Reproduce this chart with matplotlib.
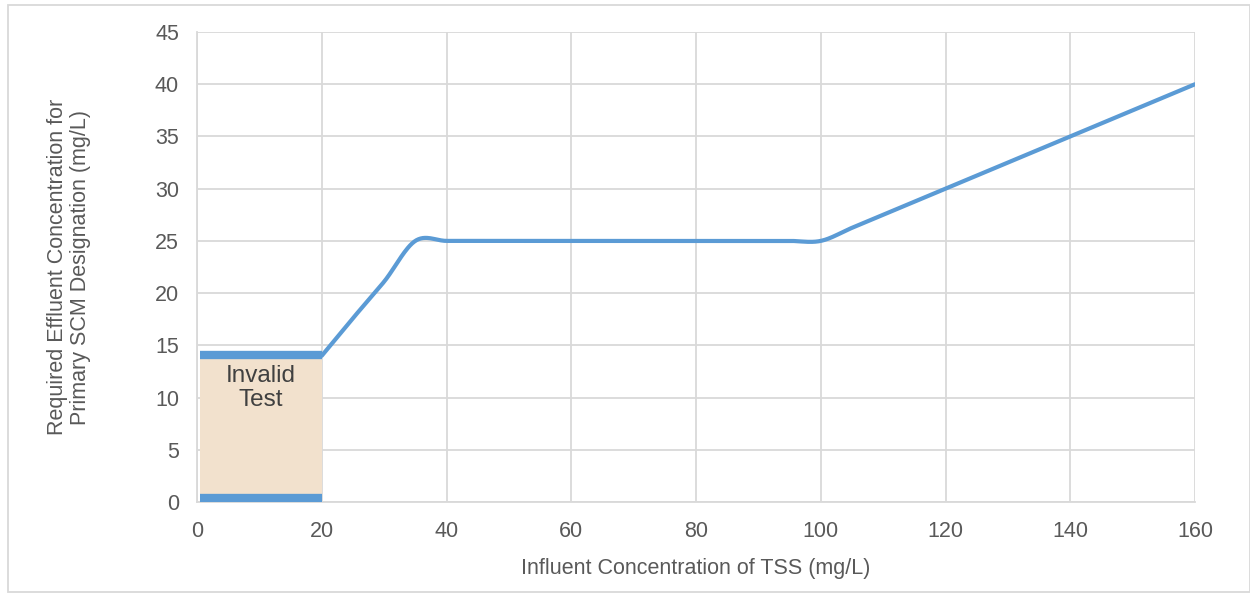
import numpy as np
import matplotlib
matplotlib.use("Agg")
import matplotlib.pyplot as plt
from matplotlib.patches import Rectangle

# data (points every 5 mg/L)
tss_in = [20, 25, 30, 35, 40, 45, 50, 55, 60, 65, 70, 75, 80, 85, 90, 95, 100,
          105, 110, 115, 120, 125, 130, 135, 140, 145, 150, 155, 160]
eff_req = [14, 17.6, 21.1, 25, 25, 25, 25, 25, 25, 25, 25, 25, 25, 25, 25, 25, 25,
           26.25, 27.5, 28.75, 30, 31.25, 32.5, 33.75, 35, 36.25, 37.5, 38.75, 40]

invalid_x = [0.5, 20]
invalid_low = 0.4
invalid_high = 14.1

x_ticks = list(range(0, 161, 20))
y_ticks = list(range(0, 46, 5))

BLUE = "#5B9BD5"
GRID = "#D9D9D9"
TEXT = "#595959"

plt.rcParams['font.family'] = ['Liberation Sans', 'DejaVu Sans']


'''
excel style smoothed line: bezier through the points, control points from neighbours
'''
def smooth(xs, ys, n=30):
  p = np.column_stack([xs, ys]).astype(float)
  p = np.vstack([p[0], p, p[-1]])
  out = []
  for i in range(1, len(p) - 2):
    p0, p1, p2, p3 = p[i-1], p[i], p[i+1], p[i+2]
    c1 = p1 + (p2 - p0) / 6.0
    c2 = p2 - (p3 - p1) / 6.0
    t = np.linspace(0, 1, n)[:, None]
    seg = ((1-t)**3) * p1 + 3*((1-t)**2)*t*c1 + 3*(1-t)*t**2*c2 + t**3 * p2
    out.append(seg)
  out = np.vstack(out)
  return out[:, 0], out[:, 1]


fig = plt.figure(figsize=(12.5, 5.96), dpi=100)
ax = fig.add_axes([0.1576, 0.1577, 0.7984, 0.7886])

sx, sy = smooth(tss_in, eff_req)

# invalid test box
ax.add_patch(Rectangle((invalid_x[0], 0), invalid_x[1] - invalid_x[0], invalid_high,
                       facecolor="#F2E1CD", edgecolor="none", zorder=2))
ax.plot(invalid_x, [invalid_high, invalid_high], color=BLUE, lw=6, solid_capstyle="butt", zorder=3)
ax.plot(invalid_x, [invalid_low, invalid_low], color=BLUE, lw=6, solid_capstyle="butt", zorder=3)
ax.text(10.2, 10.9, "Invalid\nTest", ha="center", va="center", fontsize=17.5,
        color="#404040", linespacing=1.15, zorder=4)

ax.plot(sx, sy, color=BLUE, lw=3, zorder=4, solid_capstyle="round")

ax.set_xlim(0, 160)
ax.set_ylim(0, 45)
ax.set_xticks(x_ticks)
ax.set_yticks(y_ticks)
ax.grid(True, color=GRID, lw=1.3, zorder=0)
ax.set_axisbelow(True)
for s in ax.spines.values():
  s.set_visible(False)
ax.spines['left'].set_visible(True)
ax.spines['bottom'].set_visible(True)
ax.spines['left'].set_color(GRID)
ax.spines['bottom'].set_color(GRID)
ax.spines['left'].set_linewidth(1.3)
ax.spines['bottom'].set_linewidth(1.3)
ax.tick_params(length=0, labelsize=15.5, colors=TEXT)
ax.tick_params(axis='x', pad=14)
ax.tick_params(axis='y', pad=13)

ax.set_xlabel("Influent Concentration of TSS (mg/L)", fontsize=15.5, color=TEXT, labelpad=11)
ax.set_ylabel("Required Effluent Concentration for\nPrimary SCM Designation (mg/L)",
              fontsize=15.5, color=TEXT, labelpad=46, linespacing=1.1)

# outer chart border
fig.patches.append(Rectangle((0.006, 0.006), 0.994, 0.986, transform=fig.transFigure,
                             fill=False, edgecolor=GRID, lw=1.3))

fig.savefig("out.png", dpi=100)
